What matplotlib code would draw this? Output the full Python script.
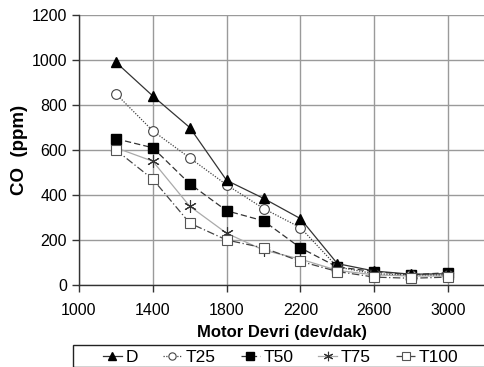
import numpy as np
import matplotlib
matplotlib.use("Agg")
import matplotlib.pyplot as plt
from matplotlib.patches import Rectangle

plt.rcParams['font.family'] = ['Liberation Sans', 'DejaVu Sans']

rpm = [1200, 1400, 1600, 1800, 2000, 2200, 2400, 2600, 2800, 3000]
co_D = [990, 840, 700, 465, 385, 295, 95, 62, 48, 50]
co_T25 = [850, 685, 565, 445, 340, 255, 80, 50, 45, 45]
co_T50 = [650, 610, 450, 330, 285, 165, 80, 60, 45, 55]
co_T75 = [610, 550, 350, 230, 155, 115, 65, 45, 40, 40]
co_T100 = [600, 470, 275, 200, 165, 105, 60, 35, 30, 35]

fig = plt.figure(figsize=(4.85, 3.67), dpi=100)
ax = fig.add_axes([79/485, 1-285/367, 1-79/485, 270/367])

ax.plot(rpm, co_D, color='#333333', lw=0.9, ls='-', marker='^', ms=7,
        mfc='black', mec='black', label='D', zorder=5)
ax.plot(rpm, co_T25, color='#444444', lw=0.9, ls=(0, (1, 1.2)), marker='o', ms=7,
        mfc='white', mec='#444444', mew=0.8, label='T25', zorder=4)
ax.plot(rpm, co_T50, color='#333333', lw=0.9, ls=(0, (5, 2.5)), marker='s', ms=7,
        mfc='black', mec='black', label='T50', zorder=3)
ax.plot(rpm, co_T75, color='#aaaaaa', lw=0.9, ls='-', marker=(6, 2, 0), ms=9,
        mfc='none', mec='#333333', mew=0.8, label='T75', zorder=2)
ax.plot(rpm, co_T100, color='#444444', lw=0.9, ls=(0, (6, 2, 1, 2)), marker='s', ms=7,
        mfc='white', mec='#555555', mew=0.8, label='T100', zorder=6)

ax.set_xlim(1000, 3200)
ax.set_ylim(0, 1200)
ax.set_xticks([1000, 1400, 1800, 2200, 2600, 3000])
ax.set_yticks(np.arange(0, 1201, 200))
ax.grid(True, color='#9a9a9a', lw=1.0)
ax.set_axisbelow(True)
for s in ['top', 'right']:
    ax.spines[s].set_visible(False)
for s in ['left', 'bottom']:
    ax.spines[s].set_color('#333333')
    ax.spines[s].set_linewidth(1.0)
ax.tick_params(axis='both', labelsize=11.5, direction='out', length=5,
               color='#333333', width=1.0)
ax.tick_params(axis='x', pad=8)

ax.set_xlabel('Motor Devri (dev/dak)', fontsize=12, fontweight='bold', labelpad=5)
ax.set_ylabel('CO  (ppm)', fontsize=13.5, fontweight='bold', labelpad=3)

# legend box drawn separately, entries start further right like the original
fig.patches.append(Rectangle((73/485, 0.5/367), 1 - 73/485 + 0.02, 22/367,
                             transform=fig.transFigure, fill=False,
                             edgecolor='#222222', lw=1.0))
leg = fig.legend(loc='lower left', bbox_to_anchor=(100/485, -1/367),
                 ncol=5, fontsize=12.5, frameon=False,
                 handlelength=1.1, handletextpad=0.2, borderpad=0.15,
                 columnspacing=1.45, borderaxespad=0, markerscale=0.75)

fig.savefig('out.png', dpi=100)
